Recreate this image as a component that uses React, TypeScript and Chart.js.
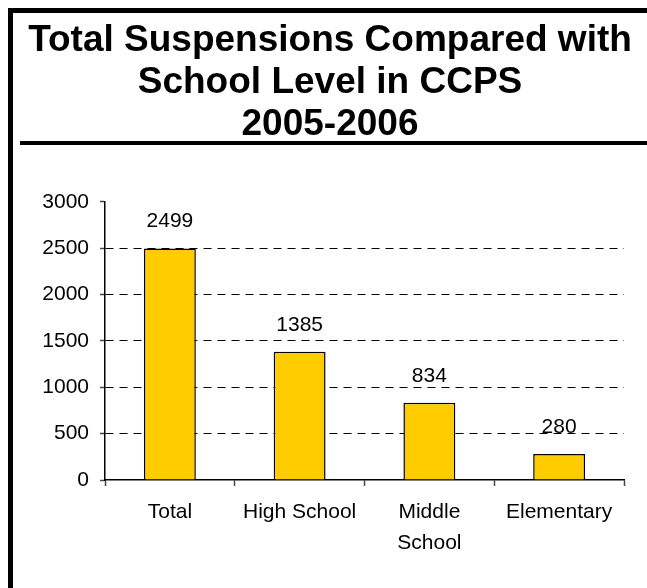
import React, { useEffect, useRef } from "react";
import { Chart, registerables } from "chart.js";

Chart.register(...registerables);

const titleLines = ["Total Suspensions Compared with", "School Level in CCPS", "2005-2006"];
const categories: (string | string[])[] = ["Total", "High School", ["Middle", "School"], "Elementary"];
const suspensions = [2499, 1385, 834, 280];
const yMin = 0;
const yMax = 3000;
const yStep = 500;

const FONT = "'Liberation Sans', Arial, sans-serif";

export default function App() {
  const ref = useRef<HTMLCanvasElement | null>(null);

  useEffect(() => {
    document.body.style.overflow = "hidden";
    const canvas = ref.current;
    if (!canvas) return;
    const valueLabels = {
      id: "valueLabels",
      afterDatasetsDraw(chart: any) {
        const ctx = chart.ctx;
        const meta = chart.getDatasetMeta(0);
        ctx.save();
        ctx.font = `21px ${FONT}`;
        ctx.fillStyle = "#000";
        ctx.textAlign = "center";
        ctx.textBaseline = "alphabetic";
        meta.data.forEach((bar: any, i: number) => {
          ctx.fillText(String(suspensions[i]), bar.x, bar.y - 21);
        });
        ctx.restore();
      },
    };
    const chart = new Chart(canvas, {
      type: "bar",
      data: {
        labels: categories as any,
        datasets: [
          {
            data: suspensions,
            backgroundColor: "#FFCC00",
            borderColor: "#000",
            borderWidth: 1.5,
            categoryPercentage: 1,
            barPercentage: 0.4,
            yAxisID: "y",
          },
        ],
      },
      options: {
        responsive: false,
        animation: false,
        layout: { padding: 0 },
        plugins: {
          legend: { display: false },
          tooltip: { enabled: false },
          title: {
            display: true,
            text: titleLines,
            color: "#000",
            font: { family: FONT, size: 37, weight: "bold", lineHeight: 1.135 },
            padding: { top: 7, bottom: 56 },
          },
        },
        scales: {
          x: {
            offset: true,
            grid: {
              display: true,
              drawOnChartArea: false,
              offset: true,
              tickLength: 6,
              tickColor: "#444",
              tickWidth: 1.5,
            },
            border: { display: true, color: "#000", width: 1.5 },
            ticks: {
              color: "#000",
              font: { family: FONT, size: 21, lineHeight: 1.5 },
              padding: 10,
              maxRotation: 0,
              autoSkip: false,
            },
            afterFit(scale: any) {
              scale.height = 108;
            },
          },
          y: {
            min: yMin,
            max: yMax,
            grid: {
              color: (c: any) =>
                c.tick && (c.tick.value === yMin || c.tick.value === yMax) ? "rgba(0,0,0,0)" : "#000",
              lineWidth: 1,
              tickLength: 5,
              tickColor: "#444",
              tickWidth: 1.5,
              tickBorderDash: [],
            },
            border: { display: true, color: "#000", width: 1.5, dash: [8, 6] },
            ticks: {
              stepSize: yStep,
              color: "#000",
              font: { family: FONT, size: 21 },
              padding: 11,
              callback: (v: any) => String(v),
            },
            afterFit(scale: any) {
              scale.width = 92;
            },
          },
          spacer: {
            type: "linear",
            position: "right",
            display: true,
            min: yMin,
            max: yMax,
            grid: { display: false, drawTicks: false },
            border: { display: false },
            ticks: { display: false },
            afterFit(scale: any) {
              scale.width = 23;
            },
          },
        },
      },
      plugins: [valueLabels],
    });
    return () => chart.destroy();
  }, []);

  return (
    <div
      style={{
        position: "fixed",
        left: 8,
        top: 8,
        width: 639,
        height: 580,
        boxSizing: "border-box",
        borderLeft: "5px solid #000",
        borderTop: "5px solid #000",
        overflow: "hidden",
        background: "#fff",
      }}
    >
      <canvas
        ref={ref}
        width={634}
        height={575}
        style={{ position: "absolute", left: 0, top: 0, width: 634, height: 575 }}
      />
      <div
        style={{
          position: "absolute",
          left: 7,
          right: 0,
          top: 128,
          height: 4,
          background: "#000",
        }}
      />
    </div>
  );
}
